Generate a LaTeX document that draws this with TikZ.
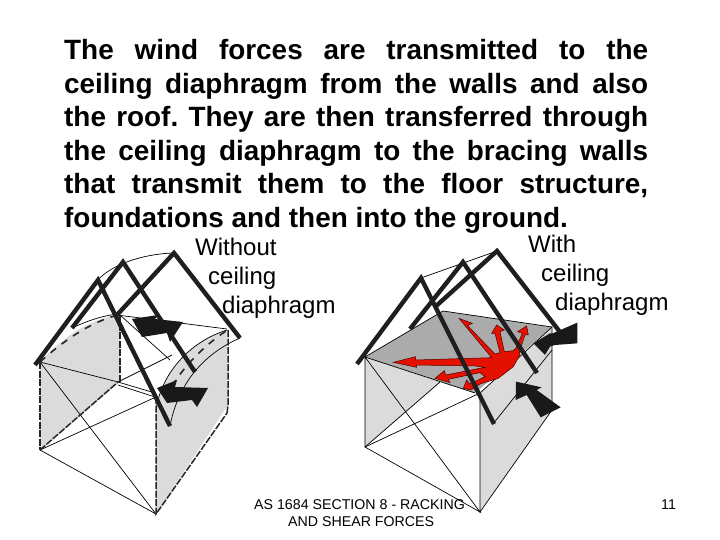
\documentclass[tikz,border=0pt]{standalone}
\usepackage{fontspec}
\setmainfont{Liberation Sans}
\frenchspacing
\newcommand{\jl}[1]{\makebox[584pt][s]{#1}}
\tikzset{
 rafter/.style={line width=4.4pt,draw=black!88,line cap=butt},
 thin line/.style={line width=0.7pt,draw=black},
 dash edge/.style={line width=1.5pt,draw=black!85,dash pattern=on 7pt off 1.5pt},
 dash roof/.style={line width=1.6pt,draw=black!85,dash pattern=on 7pt off 7pt},
 wall/.style={fill=black!14},
 wind/.style={fill=black!90,draw=none},
 body/.style={anchor=base west,inner sep=0pt,font=\fontsize{27.9}{28}\selectfont\bfseries},
 label/.style={anchor=base west,inner sep=0pt,font=\fontsize{24}{24}\selectfont},
 small/.style={anchor=base west,inner sep=0pt,font=\fontsize{14.2}{14.2}\selectfont}
}
\begin{document}
\begin{tikzpicture}[x=1pt,y=-1pt]
\useasboundingbox (0,0) rectangle (720,540);
\fill[white] (0,0) rectangle (720,540);
% main text
\node[body] (l1) at (64,59.5) {\jl{The wind forces are transmitted to the}};
\node[body] (l2) at (64,93.5) {\jl{ceiling diaphragm from the walls and also}};
\node[body] (l3) at (64,126.5) {\jl{the roof. They are then transferred through}};
\node[body] (l4) at (64,160.5) {\jl{the ceiling diaphragm to the bracing walls}};
\node[body] (l5) at (64,193.5) {\jl{that transmit them to the floor structure,}};
\node[body] (l6) at (64,227.5) {foundations and then into the ground.};
% labels
\node[label] (wo1) at (195,255) {Without};
\node[label] (wo2) at (208,284) {ceiling};
\node[label] (wo3) at (222,313) {diaphragm};
\node[label] (wi1) at (528,252) {With};
\node[label] (wi2) at (541,281) {ceiling};
\node[label] (wi3) at (555,310) {diaphragm};
\node[small] (f1) at (254,509) {AS 1684 SECTION 8 - RACKING};
\node[small] (f2) at (288,526) {AND SHEAR FORCES};
\node[small] (pg) at (661,509) {11};

% ---------- left house
\fill[wall] (40,362) .. controls (62,338) and (90,318) .. (120,315) -- (120,382) -- (40,450) -- cycle;
\fill[wall] (156,412) .. controls (158,385) and (180,345) .. (227,330) -- (228,405) -- (156,514) -- cycle;
% thin lines
\draw[thin line] (40,362) -- (118,382) -- (155,393);
\draw[thin line] (118,385) -- (155,397);
\draw[thin line] (40,362) -- (156,514);
\draw[thin line] (40,450) -- (156,514);
\draw[thin line] (40,450) -- (156,397);
\draw[thin line] (118,382) -- (172,355);
\draw[thin line] (117,315) -- (227,329);
\draw[thin line] (120,315) -- (170,360);
\draw[thin line] (98,280) .. controls (110,266) and (140,254) .. (174,253);
\draw[thin line] (170,426) .. controls (175,400) and (190,360) .. (240,338);
\draw[thin line] (156,412) .. controls (158,385) and (180,345) .. (227,330);
\draw[thin line] (72,328) .. controls (85,322) and (100,316) .. (118,314);
% dashed edges
\draw[dash edge] (40,362) -- (40,450);
\draw[dash edge] (40,450) -- (118,382);
\draw[dash edge] (120,315) -- (120,382);
\draw[dash edge] (156,397) -- (156,514) -- (227,413);
\draw[dash edge] (228,330) -- (228,405) -- (227,413);
\draw[dash roof] (40,362) .. controls (62,342) and (90,322) .. (118,315);
\draw[dash roof] (172,386) .. controls (185,365) and (205,345) .. (226,331);
% rafters
\draw[rafter] (35,365) -- (98,280) -- (170,426);
\draw[rafter] (72,328) -- (123,262) -- (195,372);
\draw[rafter] (117,315) -- (174,253) -- (240,338);
% wind arrows
\fill[wind] (132,319) -- (158,315) -- (155,319) -- (183,322) -- (170,342) -- (167,333) -- (142,337) -- cycle;
\fill[wind] (157,388) -- (177,380) -- (175,387) -- (208,388) -- (197,407) -- (192,400) -- (167,403) -- cycle;

% ---------- right house
\fill[black!14] (365,357) -- (440,382) -- (365,447) -- cycle;
\fill[black!14] (480,393) -- (552,327) -- (552,410) -- (480,512) -- cycle;
\fill[black!33] (365,357) -- (443,311) -- (552,327) -- (475,393) -- cycle;
\draw[thin line] (365,357) -- (443,311) -- (552,327) -- (552,410) -- (480,512) -- (480,393);
\draw[thin line] (365,357) -- (475,393);
\draw[thin line] (552,327) -- (480,393);
\draw[thin line] (365,357) -- (365,447) -- (480,512) -- cycle;
\draw[thin line] (365,447) -- (480,393);
\draw[thin line] (365,447) -- (440,382);
\draw[thin line] (493,424) -- (552,350);
\draw[thin line] (421,278) -- (497,251);
% red load
\begin{scope}[shift={(385,310)},x=0.3333pt,y=-0.3333pt]
\filldraw[fill=red!85!orange!90!black,draw=black!70!red,line width=0.5pt]
 (222,25) -- (262,40) -- (248,47) -- (330,132) -- (345,128) -- (330,70) -- (320,70) -- (335,45) -- (358,60) -- (345,65)
 -- (358,125) -- (385,122) -- (392,115) -- (412,70) -- (398,65) -- (425,48) -- (430,75) -- (420,75) -- (403,125)
 -- (405,135) -- (385,170) -- (340,205) -- (285,222) -- (258,240) -- (235,235) -- (245,210) -- (255,222) -- (300,200) -- (285,188)
 -- (190,208) -- (195,218) -- (150,205) -- (178,182) -- (182,195) -- (300,172) -- (270,168) -- (95,165) -- (95,172) -- (25,157)
 -- (92,140) -- (92,150) -- (320,143) -- cycle;
\end{scope}
% rafters
\draw[rafter] (357,364) -- (421,278) -- (494,424);
\draw[rafter] (410,329) -- (463,262) -- (537,373);
\draw[rafter] (435,307) -- (497,251) -- (560,332);
% wind arrows
\begin{scope}[shift={(500,300)},x=0.3333pt,y=-0.3333pt]
\fill[wind] (100,130) -- (150,100) -- (158,100) -- (232,68) -- (232,130) -- (165,135) -- (150,140) -- (135,165) -- cycle;
\fill[wind] (48,245) -- (125,262) -- (110,270) -- (182,322) -- (122,352) -- (80,285) -- (47,300) -- cycle;
\end{scope}
\end{tikzpicture}
\end{document}
